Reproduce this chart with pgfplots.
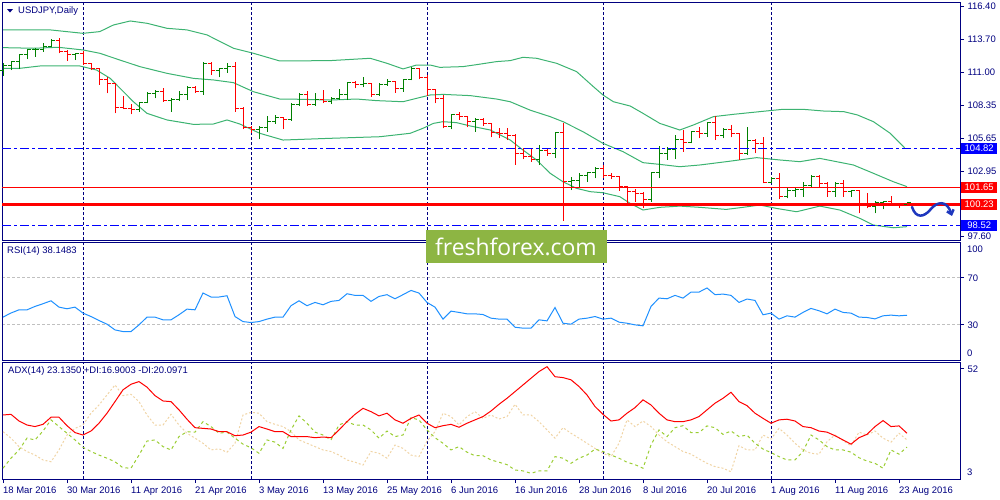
\documentclass[border=0pt]{standalone}
\usepackage{fontspec}
\setmainfont{Liberation Sans}
\newfontfamily\wmfont{Open Sans}
\usepackage{pgfplots}
\usepackage{pgfplotstable}
\pgfplotsset{compat=1.18}
\usetikzlibrary{arrows.meta}

\definecolor{mtnavy}{RGB}{0,0,128}
\definecolor{upgreen}{RGB}{0,128,0}
\definecolor{bbgreen}{RGB}{60,179,113}
\definecolor{rsiblue}{RGB}{30,144,255}
\definecolor{pdigreen}{RGB}{154,205,50}
\definecolor{mdiwheat}{RGB}{240,212,165}
\definecolor{lvlsilver}{RGB}{192,192,192}
\definecolor{wmgreen}{RGB}{141,181,67}
\definecolor{arrowblue}{RGB}{30,55,190}
\newcommand\tickfont{\fontsize{9.5}{11}\selectfont}

% open tick to the left, close tick to the right
\pgfdeclareplotmark{otick}{\pgfpathmoveto{\pgfqpoint{-3.5bp}{0pt}}\pgfpathlineto{\pgfqpoint{0pt}{0pt}}\pgfusepathqstroke}
\pgfdeclareplotmark{ctick}{\pgfpathmoveto{\pgfqpoint{0pt}{0pt}}\pgfpathlineto{\pgfqpoint{3.5bp}{0pt}}\pgfusepathqstroke}

% daily bars, 18 Mar - 24 Aug 2016 (index = trading day)
\pgfplotstableread{
i o h l c
0 111.22 111.82 110.73 111.55
1 111.55 111.99 111.22 111.91
2 111.91 112.53 111.31 112.45
3 112.45 112.94 112.12 112.86
4 112.86 113.00 112.31 112.91
5 112.91 113.40 112.72 113.15
6 113.15 113.76 113.10 113.62
7 113.62 113.81 112.59 112.72
8 112.72 112.86 111.99 112.45
9 112.45 112.64 112.04 112.59
10 112.59 112.81 111.63 111.77
11 111.77 111.80 111.22 111.36
12 111.36 111.40 110.00 110.41
13 110.41 110.63 109.32 110.13
14 110.13 110.15 107.68 108.17
15 108.17 109.10 108.01 108.09
16 108.09 108.44 107.60 108.01
17 108.01 108.63 107.82 108.55
18 108.55 109.45 108.50 109.32
19 109.32 109.59 108.91 109.45
20 109.45 109.73 108.63 108.77
21 108.77 108.96 107.82 108.85
22 108.85 109.53 108.72 109.18
23 109.18 109.92 108.77 109.81
24 109.81 109.92 109.37 109.45
25 109.45 111.91 109.18 111.77
26 111.77 111.91 110.82 111.22
27 111.22 111.36 110.63 111.31
28 111.31 111.77 111.01 111.50
29 111.50 111.91 107.82 108.09
30 108.09 108.17 106.37 106.51
31 106.51 106.65 106.10 106.32
32 106.32 106.65 105.56 106.54
33 106.54 107.46 106.18 107.00
34 107.00 107.55 106.81 107.35
35 107.35 107.41 106.37 107.19
36 107.19 108.50 107.08 108.44
37 108.44 109.32 108.28 109.26
38 109.26 109.53 108.28 108.44
39 108.44 109.37 108.28 108.83
40 108.83 109.59 108.50 108.63
41 108.63 109.04 108.44 108.91
42 108.91 109.64 108.77 109.18
43 109.18 110.27 108.77 110.19
44 110.19 110.33 109.73 110.00
45 110.00 110.63 109.81 110.13
46 110.13 110.19 109.04 109.18
47 109.18 110.13 109.10 110.00
48 110.00 110.46 109.92 110.27
49 110.27 110.30 109.37 109.73
50 109.73 110.46 109.45 110.41
51 110.41 111.50 110.38 111.36
52 111.36 111.40 110.46 110.63
53 110.63 110.82 109.10 109.59
54 109.59 109.64 108.50 108.91
55 108.91 109.18 106.46 106.59
56 106.59 107.60 106.37 107.55
57 107.55 107.82 107.14 107.41
58 107.41 107.45 106.54 107.00
59 107.00 107.27 106.18 107.14
60 107.14 107.27 106.65 106.86
61 106.86 106.92 105.72 106.10
62 106.10 106.46 105.64 106.05
63 106.05 106.46 105.50 105.91
64 105.91 105.99 103.46 104.36
65 104.36 104.82 103.92 104.14
66 104.14 104.74 103.73 103.92
67 103.92 105.09 103.46 104.68
68 104.68 104.87 104.22 104.41
69 104.41 106.18 104.00 106.10
70 106.10 106.86 98.91 102.09
71 102.09 102.50 101.41 102.23
72 102.23 102.78 101.55 102.64
73 102.64 102.91 102.09 102.83
74 102.83 103.32 102.37 103.18
75 103.18 103.46 102.37 102.64
76 102.64 102.78 102.31 102.56
77 102.56 102.60 101.36 101.69
78 101.69 101.72 100.32 101.28
79 101.28 101.50 100.46 101.14
80 101.14 101.28 99.91 100.60
81 100.60 102.91 100.46 102.83
82 102.83 105.01 102.37 104.36
83 104.36 104.96 103.87 104.74
84 104.74 105.91 103.92 105.56
85 105.56 106.32 104.55 105.28
86 105.28 106.24 105.23 106.18
87 106.18 106.59 105.64 106.05
88 106.05 107.00 105.77 106.92
89 106.92 107.46 105.50 105.83
90 105.83 106.46 105.64 106.32
91 106.32 106.73 105.72 106.05
92 106.05 106.10 103.87 104.36
93 104.36 106.59 104.30 105.50
94 105.50 105.55 104.41 105.23
95 105.23 105.72 101.96 102.01
96 102.01 102.50 101.96 102.37
97 102.37 102.83 100.65 100.87
98 100.87 101.55 100.73 101.41
99 101.41 101.55 100.87 101.47
100 101.47 102.09 100.87 101.82
101 101.82 102.64 101.69 102.56
102 102.56 102.62 101.69 101.96
103 101.96 102.09 100.87 101.28
104 101.28 102.09 100.87 101.96
105 101.96 102.23 100.87 101.28
106 101.28 101.41 100.87 101.36
107 101.36 101.40 99.50 100.32
108 100.32 101.19 99.91 100.05
109 100.05 100.54 99.50 100.38
110 100.38 100.46 99.83 100.44
111 100.44 100.92 100.27 100.32
112 100.32 100.38 99.91 100.27
113 100.27 100.46 100.19 100.38
}\ohlc

% RSI(14), ADX(14), +DI, -DI
\pgfplotstableread{
i rsi adx pdi mdi
0 36.5 31.3 7.4 23.8
1 40.0 31.6 11.9 20.9
2 42.7 28.6 15.6 17.1
3 42.7 26.8 20.9 14.9
4 45.6 26.1 20.1 13.3
5 47.9 27.1 24.1 11.1
6 50.4 30.3 29.1 10.3
7 45.0 30.3 26.1 15.6
8 43.6 26.5 23.1 22.3
9 45.0 23.4 20.1 25.3
10 39.9 22.3 16.8 26.8
11 37.0 24.1 14.9 32.1
12 33.6 27.6 13.3 35.8
13 30.5 32.1 11.9 40.3
14 25.6 37.3 10.3 44.8
15 24.2 42.6 7.6 40.0
16 24.2 45.1 7.4 40.6
17 29.9 46.3 13.3 37.3
18 36.5 43.8 19.6 31.3
19 36.5 40.0 20.1 26.8
20 34.2 37.6 17.1 26.8
21 34.2 37.3 15.6 31.6
22 38.5 33.6 21.6 26.8
23 43.3 29.4 23.8 23.1
24 42.7 25.6 23.6 20.9
25 57.0 25.3 28.3 18.6
26 53.6 25.0 26.1 15.6
27 53.6 23.8 23.1 16.1
28 54.7 23.8 23.6 14.6
29 37.0 22.0 20.9 18.6
30 32.7 22.3 18.2 31.3
31 31.9 23.6 16.6 32.5
32 32.7 26.1 14.1 32.1
33 34.8 25.0 20.1 28.3
34 36.5 23.8 19.1 27.1
35 36.5 23.8 16.3 26.1
36 46.2 21.6 24.6 23.8
37 50.4 21.6 30.9 20.1
38 46.2 21.6 27.6 18.6
39 49.0 21.1 23.6 17.1
40 47.0 21.4 22.3 15.6
41 49.9 21.1 20.1 14.9
42 50.7 24.6 26.8 13.3
43 56.4 28.3 28.3 11.1
44 55.0 31.6 26.8 10.1
45 55.0 34.3 26.8 8.8
46 49.9 32.8 24.6 14.9
47 54.1 30.9 20.9 14.1
48 55.6 32.1 24.1 11.9
49 52.1 29.1 21.6 17.8
50 55.6 27.6 22.3 16.3
51 59.2 29.8 30.1 13.3
52 57.0 31.3 29.1 12.6
53 49.0 27.6 24.6 19.6
54 45.0 25.6 21.1 23.8
55 34.8 26.5 18.6 32.1
56 41.6 27.1 15.6 30.6
57 40.5 25.8 17.1 26.8
58 39.3 27.6 14.6 30.6
59 39.3 29.1 13.0 32.8
60 38.7 30.6 13.0 29.8
61 35.6 33.1 11.1 31.3
62 34.8 36.1 10.1 29.5
63 34.8 38.8 9.0 30.6
64 27.9 41.8 6.6 36.1
65 27.1 44.8 6.2 31.3
66 27.1 47.8 5.1 31.3
67 34.2 50.8 6.2 28.3
68 33.3 53.0 6.2 24.6
69 44.7 48.5 12.6 20.9
70 31.3 48.1 11.9 25.6
71 30.5 47.1 9.6 23.1
72 34.8 44.1 11.9 20.9
73 35.6 40.3 13.3 18.6
74 37.0 35.1 16.0 16.3
75 34.8 31.6 14.9 14.1
76 35.6 28.6 13.3 12.6
77 32.2 29.1 11.9 18.6
78 31.3 32.1 10.1 29.1
79 29.9 34.6 9.0 26.1
80 29.1 38.1 7.4 28.6
81 45.6 35.8 17.8 26.1
82 52.7 32.1 24.6 22.3
83 52.1 29.1 21.6 19.3
84 55.0 28.3 25.6 17.1
85 52.7 28.3 26.5 14.9
86 57.8 29.1 23.4 13.7
87 57.8 30.6 23.4 11.6
88 61.3 33.6 26.4 9.6
89 55.6 36.6 25.6 8.1
90 56.1 38.8 22.6 7.4
91 55.0 41.5 24.1 5.8
92 49.0 37.3 21.6 17.5
93 51.9 35.5 22.3 15.6
94 50.7 32.1 18.6 15.6
95 38.5 29.8 16.0 22.3
96 39.9 27.6 14.4 20.5
97 34.8 29.1 12.6 25.3
98 37.6 29.4 11.1 22.3
99 36.5 28.6 11.1 18.6
100 40.5 26.1 14.9 15.6
101 43.9 25.6 22.3 14.1
102 41.9 24.1 20.1 13.7
103 39.3 23.6 17.1 19.3
104 43.3 22.0 15.6 22.3
105 40.5 20.1 15.6 19.8
106 39.9 18.2 14.6 17.5
107 36.5 21.1 12.1 23.6
108 36.2 22.6 10.6 22.3
109 35.0 26.1 9.6 24.1
110 37.6 28.8 7.4 20.9
111 38.2 26.1 15.6 19.1
112 37.6 26.4 13.7 23.1
113 38.1 23.1 16.9 20.1
}\ind

\pgfplotsset{
  mtpanel/.style={
    scale only axis, width=958bp, anchor=north west,
    xmin=-0.125, xmax=119.625, clip=true,
    axis line style={mtnavy, line width=1bp},
    tick style={mtnavy, line width=1bp},
    tick align=outside, major tick length=4bp,
    ytick pos=right, yticklabel pos=right,
    ticklabel style={font=\tickfont, text=mtnavy},
    /pgf/number format/assume math mode=true,
    extra x ticks={10,31,53,75,96}, extra x tick labels={},
    extra x tick style={grid=major, major tick length=0pt,
      major grid style={mtnavy, line width=1bp, dash pattern=on 3bp off 2bp}},
  },
  upbar/.style={restrict expr to domain={\thisrow{c}-\thisrow{o}}{0:100}},
  downbar/.style={restrict expr to domain={\thisrow{c}-\thisrow{o}}{-100:-0.00001}},
  hlbar/.style={draw=none, mark=none,
    error bars/y dir=plus, error bars/y explicit, error bars/error mark=none,
    error bars/error bar style={draw=#1, line width=1bp, solid}},
  sidetick/.style={draw=none, mark=#1, mark options={line width=1bp, solid}},
}

\begin{document}
\begin{tikzpicture}
\useasboundingbox (0bp,-500bp) rectangle (1000bp,0bp);

% ---------- price panel ----------
\begin{axis}[mtpanel, at={(2bp,-2bp)}, height=238bp,
  ymin=97.33, ymax=116.78, xtick=\empty,
  ytick={97.60,102.95,105.65,108.35,111.00,113.70,116.40},
  y tick label style={/pgf/number format/fixed, /pgf/number format/fixed zerofill,
    /pgf/number format/precision=2},
]
% Bollinger bands (20)
\addplot[bbgreen, line width=1bp] coordinates {
 (0,114.50) (5.9,114.50) (10.0,114.22) (12.1,114.36) (13.8,114.90) (15.9,115.23)
 (18.0,115.04) (20.5,114.63) (23.0,114.50) (25.5,114.09) (28.8,113.00) (31.3,112.59)
 (34.6,111.96) (40.9,111.99) (45.9,112.18) (48.0,111.77) (50.0,111.31) (51.7,111.63)
 (53.4,111.63) (54.6,111.44) (57.5,111.50) (59.5,111.69) (61.7,111.91) (63.4,111.99)
 (65.0,112.26) (66.7,112.18) (69.2,111.77) (71.7,111.09) (73.8,109.86) (75.0,109.18)
 (76.3,108.63) (78.4,108.28) (80.0,107.68) (82.1,106.86) (84.6,106.32) (86.3,106.73)
 (88.8,107.41) (91.3,107.60) (94.6,107.82) (97.5,108.01) (100.0,108.01) (102.6,107.87)
 (105.1,107.82) (106.8,107.55) (108.8,107.00) (110.9,106.05) (112.7,104.87)};
\addplot[bbgreen, line width=1bp] coordinates {
 (0,113.05) (3.8,113.00) (6.9,113.08) (10.0,112.86) (12.1,112.59) (14.6,112.04)
 (17.1,111.50) (20.5,110.95) (23.8,110.54) (26.3,110.41) (28.8,110.19) (31.3,109.45)
 (34.6,108.85) (37.1,108.83) (40.9,108.77) (44.2,108.85) (46.7,108.72) (50.0,108.63)
 (51.7,108.91) (53.4,109.18) (55.0,109.23) (58.4,109.13) (61.7,108.85) (63.4,108.63)
 (65.9,107.94) (68.4,107.41) (70.0,107.00) (72.5,106.18) (75.0,105.23) (77.5,104.55)
 (80.0,103.65) (82.1,103.51) (84.6,103.32) (87.1,103.46) (90.4,103.73) (94.2,104.06)
 (97.1,103.87) (99.6,103.73) (102.1,104.00) (104.2,103.73) (106.3,103.46) (108.8,102.78)
 (111.3,102.09) (113,101.69)};
\addplot[bbgreen, line width=1bp] coordinates {
 (0,111.36) (2.1,111.36) (4.6,111.55) (9.6,111.55) (11.7,111.22) (13.4,110.54)
 (16.3,108.63) (18.0,107.68) (20.5,107.14) (23.8,106.78) (26.3,106.81) (28.0,107.14)
 (29.6,106.81) (32.1,106.05) (35.0,105.50) (40.9,105.64) (47.1,105.77) (50.9,106.05)
 (52.5,106.46) (53.8,106.86) (55.0,107.00) (56.7,106.92) (58.4,106.65) (60.9,106.32)
 (63.4,105.50) (65.0,104.68) (66.7,103.87) (68.4,102.78) (70.0,102.09) (71.7,101.55)
 (73.4,101.28) (75.0,101.19) (77.1,100.87) (78.4,100.32) (80.0,99.78) (82.1,100.00)
 (84.6,100.10) (87.1,100.00) (90.4,99.83) (92.5,100.00) (94.6,100.19) (96.7,99.91)
 (99.2,99.64) (102.1,100.10) (104.6,99.78) (107.1,99.10) (108.8,98.55) (111.3,98.33)
 (113,98.42)};

% OHLC bars: high-low as error bars, open/close as side ticks
\addplot[hlbar=upgreen, upbar] table[x=i, y=l, y error expr=\thisrow{h}-\thisrow{l}] {\ohlc};
\addplot[hlbar=red, downbar] table[x=i, y=l, y error expr=\thisrow{h}-\thisrow{l}] {\ohlc};
\addplot[upgreen, sidetick=otick, upbar] table[x=i, y=o] {\ohlc};
\addplot[upgreen, sidetick=ctick, upbar] table[x=i, y=c] {\ohlc};
\addplot[red, sidetick=otick, downbar] table[x=i, y=o] {\ohlc};
\addplot[red, sidetick=ctick, downbar] table[x=i, y=c] {\ohlc};

% horizontal levels
\addplot[blue, line width=1bp, dash pattern=on 9bp off 3bp on 3bp off 3bp] coordinates {(-0.125,104.82) (119.625,104.82)};
\addplot[red, line width=1bp] coordinates {(-0.125,101.65) (119.625,101.65)};
\addplot[red, line width=3bp] coordinates {(-0.125,100.23) (119.625,100.23)};
\addplot[blue, line width=1bp, dash pattern=on 9bp off 3bp on 3bp off 3bp] coordinates {(-0.125,98.52) (119.625,98.52)};
\coordinate (lv1) at (axis cs:119.625,104.82);
\coordinate (lv2) at (axis cs:119.625,101.65);
\coordinate (lv3) at (axis cs:119.625,100.23);
\coordinate (lv4) at (axis cs:119.625,98.52);
\end{axis}

% ---------- RSI panel ----------
\begin{axis}[mtpanel, at={(2bp,-242.5bp)}, height=117.5bp,
  ymin=0, ymax=100, xtick=\empty, ytick={30,70},
  ymajorgrids, y grid style={lvlsilver, line width=1bp, dash pattern=on 3bp off 2bp},
]
\addplot[rsiblue, line width=1bp] table[x=i, y=rsi] {\ind};
\end{axis}

% ---------- ADX panel ----------
\begin{axis}[mtpanel, at={(2bp,-362bp)}, height=117bp,
  ymin=2.55, ymax=55.1, ytick={52},
  xtick={0,8,...,112}, xtick pos=bottom,
  xticklabels={18 Mar 2016,30 Mar 2016,11 Apr 2016,21 Apr 2016,3 May 2016,13 May 2016,
    25 May 2016,6 Jun 2016,16 Jun 2016,28 Jun 2016,8 Jul 2016,20 Jul 2016,1 Aug 2016,
    11 Aug 2016,23 Aug 2016},
  xticklabel style={anchor=north west, inner xsep=0pt},
]
\addplot[mdiwheat, line width=1bp, dash pattern=on 2bp off 2bp] table[x=i, y=mdi] {\ind};
\addplot[pdigreen, line width=1bp, dash pattern=on 3bp off 3bp] table[x=i, y=pdi] {\ind};
\addplot[red, line width=1bp] table[x=i, y=adx] {\ind};
\end{axis}

% scale labels kept off the panel edges
\begin{scope}[every node/.style={font=\tickfont, text=mtnavy, inner sep=0pt, anchor=west}]
\node at (967bp,-249bp) {100};
\node at (967bp,-353bp) {0};
\node at (967bp,-472bp) {3};
\end{scope}

% level price boxes
\begin{scope}[every node/.style={font=\tickfont, text=white, inner xsep=2bp, inner ysep=0pt,
    minimum height=11bp, minimum width=36bp, anchor=west}]
\node[fill=blue] at ([xshift=1bp]lv1) {104.82};
\node[fill=red] at ([xshift=1bp]lv2) {101.65};
\node[fill=red] at ([xshift=1bp]lv3) {100.23};
\node[fill=blue] at ([xshift=1bp]lv4) {98.52};
\end{scope}

% panel captions
\fill[mtnavy] (7bp,-9bp) -- (13bp,-9bp) -- (10bp,-12.5bp) -- cycle;
\begin{scope}[every node/.style={font=\tickfont, text=mtnavy, inner sep=0pt, anchor=west}]
\node at (18bp,-11bp) {USDJPY,Daily};
\node at (7bp,-251.5bp) {RSI(14) 38.1483};
\node at (8bp,-371bp) {ADX(14) 23.1350 +DI:16.9003 -DI:20.0971};
\end{scope}

% watermark
\node[fill=wmgreen, text=white, font=\wmfont\fontsize{23}{23}\selectfont,
  minimum width=181bp, minimum height=33bp, inner sep=0pt] at (516bp,-246.5bp) {freshforex.com};

% hand drawn forecast arrow
\draw[arrowblue, line width=2.5bp, line cap=round, -{Straight Barb[length=4bp,width=7bp]}]
  (912bp,-207bp) .. controls (916bp,-219bp) and (924bp,-217bp) .. (930bp,-210bp)
  .. controls (937bp,-201bp) and (947bp,-200bp) .. (952bp,-216bp);
\end{tikzpicture}
\end{document}
